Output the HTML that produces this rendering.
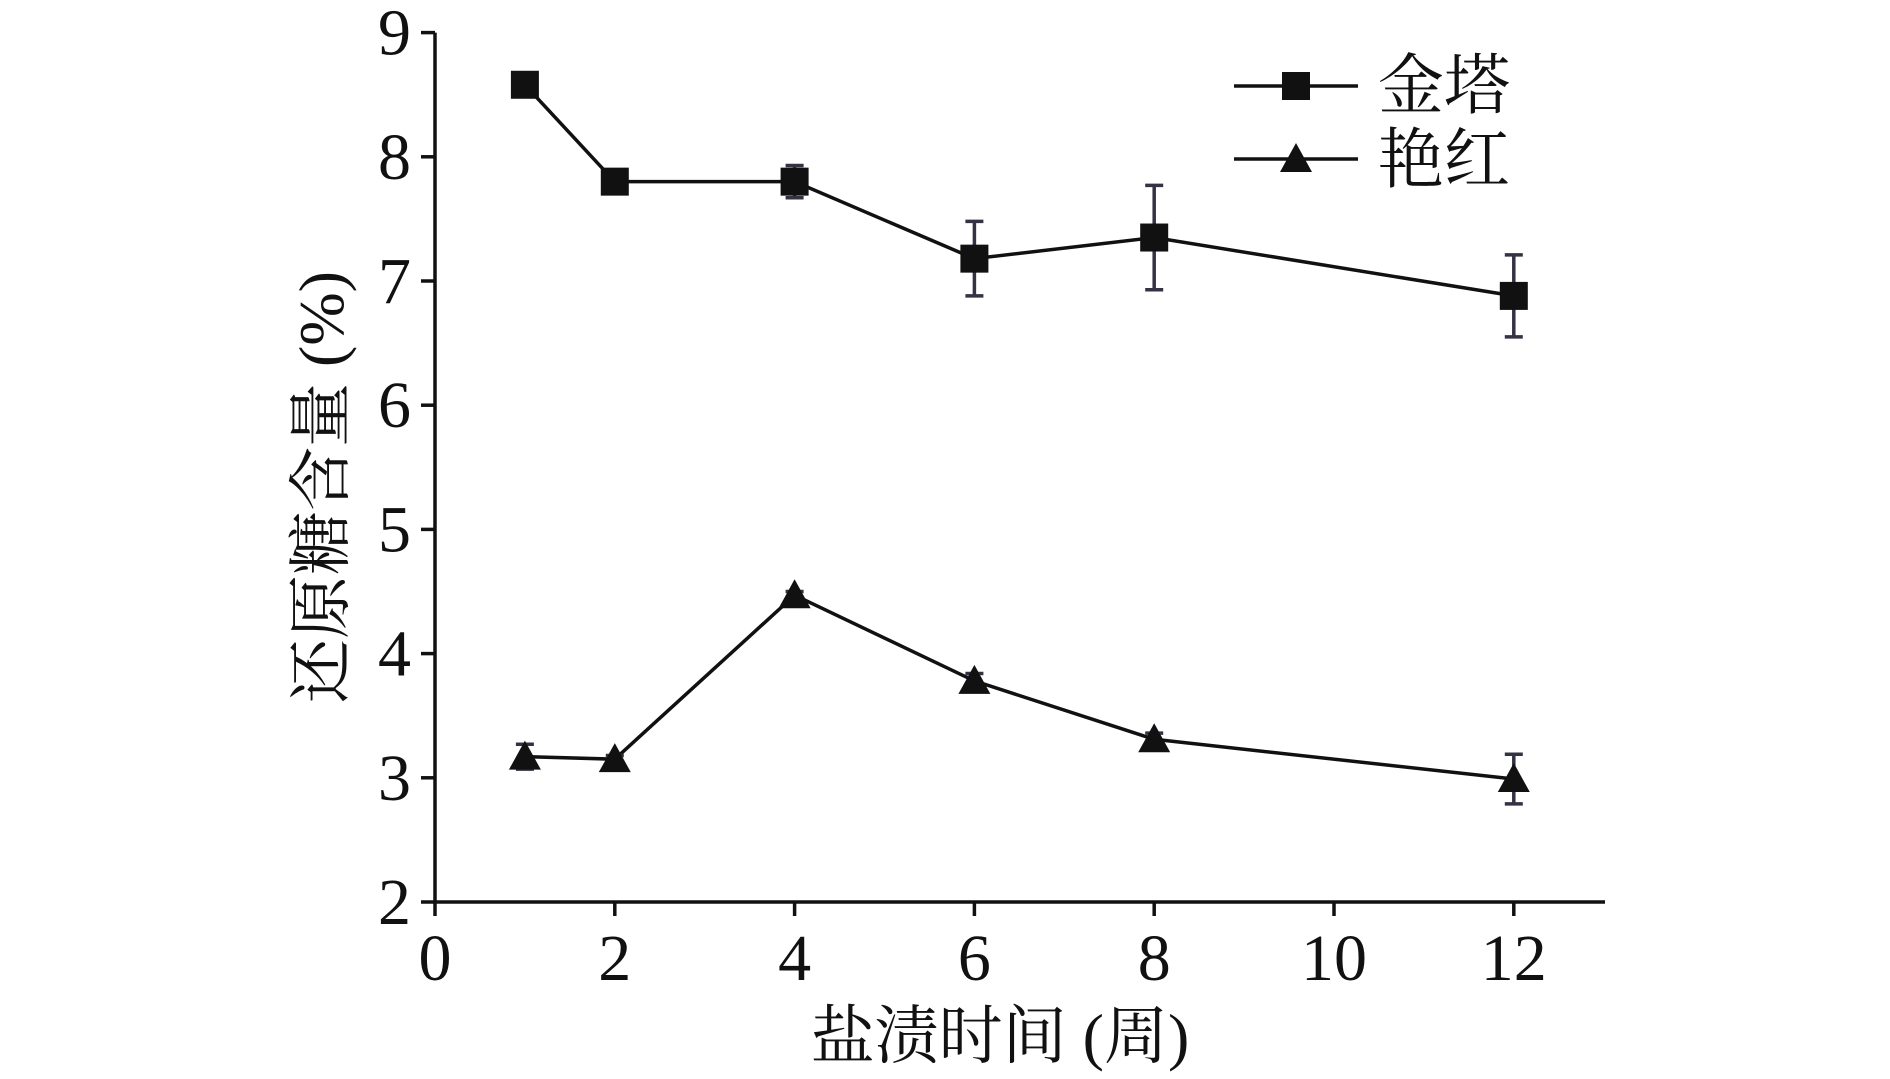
<!DOCTYPE html>
<html><head><meta charset="utf-8"><style>
html,body{margin:0;padding:0;background:#fff;width:1890px;height:1079px;overflow:hidden}
text{font-family:"Liberation Serif","Noto Serif CJK SC","Noto Sans CJK SC",serif;fill:#111}
</style></head><body>
<svg id="c" width="1890" height="1079"></svg>
<script>
const xs=[1,2,4,6,8,12];
const jinta=[8.58,7.8,7.8,7.18,7.35,6.88];
const jintaErr=[0.03,0.03,0.13,0.3,0.42,0.33];
const yanhong=[3.17,3.15,4.47,3.78,3.31,2.99];
const yanhongErr=[0.1,0.03,0.03,0.06,0.05,0.2];
const xTicks=[0,2,4,6,8,10,12];
const yTicks=[2,3,4,5,6,7,8,9];
const NS='http://www.w3.org/2000/svg';
const svg=document.getElementById('c');
const X=v=>435+v*89.9;
const Y=v=>902-(v-2)*124.2;
function el(t,a,p){const e=document.createElementNS(NS,t);for(const k in a)e.setAttribute(k,a[k]);(p||svg).appendChild(e);return e;}
let e;
e=el('line',{x1:435,y1:Y(9),x2:435,y2:902,stroke:'#111','stroke-width':3.5});


e=el('line',{x1:433,y1:902,x2:1605,y2:902,stroke:'#111','stroke-width':3.5});


yTicks.forEach(v=>{
 e=el('line',{x1:421,y1:Y(v),x2:435,y2:Y(v),stroke:'#111','stroke-width':3.5});
 
 
 e=el('text',{x:411,y:Y(v)+22,'text-anchor':'end','font-size':66});e.textContent=v;
 
 
});
xTicks.forEach(v=>{
 e=el('line',{x1:X(v),y1:902,x2:X(v),y2:916,stroke:'#111','stroke-width':3.5});
 
 
 e=el('text',{x:X(v),y:980,'text-anchor':'middle','font-size':66});e.textContent=v;
 
 
});
e=el('text',{x:1000,y:1058,'text-anchor':'middle','font-size':64});e.textContent='盐渍时间 (周)';


e=el('text',{x:0,y:0,'text-anchor':'middle','font-size':64,transform:'translate(343,487) rotate(-90)'});e.textContent='还原糖含量 (%)';


function series(vals,errs,shape,name){
 const g=el('g',{});
 
 
 e=el('polyline',{points:xs.map((x,i)=>X(x)+','+Y(vals[i])).join(' '),fill:'none',stroke:'#111','stroke-width':3.5},g);
 
 
 xs.forEach((x,i)=>{
  const cx=X(x),cy=Y(vals[i]),t=Y(vals[i]+errs[i]),b=Y(vals[i]-errs[i]);
  e=el('path',{d:`M${cx},${t}V${b}M${cx-9},${t}H${cx+9}M${cx-9},${b}H${cx+9}`,stroke:'#333344','stroke-width':3.5,fill:'none'},g);
  
  
  if(shape==='sq') e=el('rect',{x:cx-14,y:cy-14,width:28,height:28,fill:'#111'},g);
  else e=el('polygon',{points:`${cx},${cy-16} ${cx-16},${cy+13} ${cx+16},${cy+13}`,fill:'#111'},g);
  
  
 });
}
series(jinta,jintaErr,'sq','jinta');
series(yanhong,yanhongErr,'tri','yanhong');
const lg=el('g',{});


el('line',{x1:1234,y1:86,x2:1358,y2:86,stroke:'#111','stroke-width':3.5},lg);
el('rect',{x:1282,y:72,width:28,height:28,fill:'#111'},lg);
e=el('text',{x:1378,y:108,'font-size':66},lg);e.textContent='金塔';


el('line',{x1:1234,y1:159,x2:1358,y2:159,stroke:'#111','stroke-width':3.5},lg);
el('polygon',{points:'1296,143 1280,172 1312,172',fill:'#111'},lg);
e=el('text',{x:1378,y:182,'font-size':66},lg);e.textContent='艳红';


</script>
</body></html>
